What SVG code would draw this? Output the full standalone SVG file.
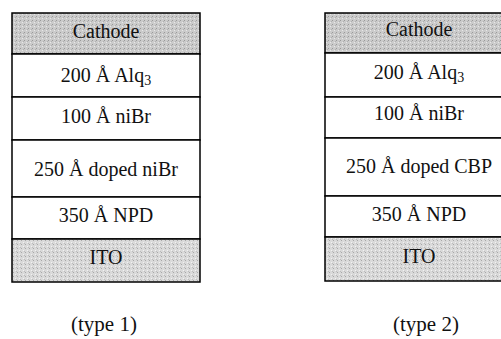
<svg xmlns="http://www.w3.org/2000/svg" width="501" height="339" viewBox="0 0 501 339">
<defs>
<pattern id="stipA" width="4" height="4" patternUnits="userSpaceOnUse">
<rect width="4" height="4" fill="#cbcbcb"/>
<rect x="0" y="0" width="1" height="1" fill="#9a9a9a"/>
<rect x="2" y="2" width="1" height="1" fill="#e8e8e8"/>
<rect x="3" y="1" width="1" height="1" fill="#b0b0b0"/>
</pattern>
<pattern id="stipB" width="4" height="4" patternUnits="userSpaceOnUse">
<rect width="4" height="4" fill="#dadada"/>
<rect x="1" y="0" width="1" height="1" fill="#a8a8a8"/>
<rect x="3" y="2" width="1" height="1" fill="#f2f2f2"/>
<rect x="0" y="3" width="1" height="1" fill="#bcbcbc"/>
</pattern>
</defs>
<style>
.layer{fill:#ffffff;stroke:#000;stroke-width:1.5}
.cath{fill:url(#stipA);stroke:#000;stroke-width:1.5}
.ito{fill:url(#stipB);stroke:#000;stroke-width:1.5}
text{font-family:"Liberation Serif","Times New Roman",serif;font-size:20px;fill:#111;text-anchor:middle}
.sub{font-size:14px}
.cap{font-size:21px}
</style>
<g id="type1">
<g id="t1-cathode"><rect class="cath" x="12" y="13" width="188" height="41"/><text x="106" y="38">Cathode</text></g>
<g id="t1-alq3"><rect class="layer" x="12" y="54" width="188" height="43"/><text x="106" y="82">200 Å Alq<tspan class="sub" dy="3">3</tspan></text></g>
<g id="t1-nibr"><rect class="layer" x="12" y="97" width="188" height="43"/><text x="106" y="123">100 Å niBr</text></g>
<g id="t1-doped"><rect class="layer" x="12" y="140" width="188" height="57"/><text x="106" y="176">250 Å doped niBr</text></g>
<g id="t1-npd"><rect class="layer" x="12" y="197" width="188" height="42"/><text x="106" y="222">350 Å NPD</text></g>
<g id="t1-ito"><rect class="ito" x="12" y="239" width="188" height="43"/><text x="106" y="264">ITO</text></g>
<g id="t1-label"><text class="cap" x="104" y="331">(type 1)</text></g>
</g>
<g id="type2">
<g id="t2-cathode"><rect class="cath" x="325" y="13" width="188" height="40"/><text x="419" y="36">Cathode</text></g>
<g id="t2-alq3"><rect class="layer" x="325" y="53" width="188" height="44"/><text x="419" y="79">200 Å Alq<tspan class="sub" dy="3">3</tspan></text></g>
<g id="t2-nibr"><rect class="layer" x="325" y="97" width="188" height="41"/><text x="419" y="120">100 Å niBr</text></g>
<g id="t2-doped"><rect class="layer" x="325" y="138" width="188" height="58"/><text x="419" y="173">250 Å doped CBP</text></g>
<g id="t2-npd"><rect class="layer" x="325" y="196" width="188" height="41"/><text x="419" y="221">350 Å NPD</text></g>
<g id="t2-ito"><rect class="ito" x="325" y="237" width="188" height="44"/><text x="419" y="263">ITO</text></g>
<g id="t2-label"><text class="cap" x="426" y="331">(type 2)</text></g>
</g>
<g id="connectors"/>
</svg>
